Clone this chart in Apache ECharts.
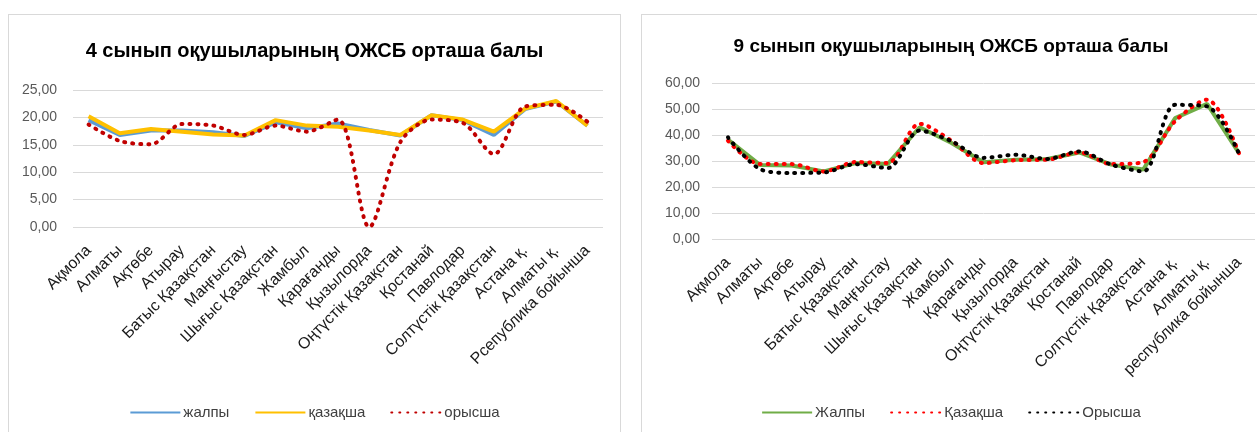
<!DOCTYPE html>
<html>
<head>
<meta charset="utf-8">
<script src="https://cdn.jsdelivr.net/npm/echarts@6/dist/echarts.min.js"></script>
<style>
  body { margin: 0; background: #fff; width: 1257px; height: 432px; overflow: hidden; position: relative; }
  .box { position: absolute; top: 14px; height: 430px; border: 1px solid #d9d9d9; box-sizing: border-box; background: #fff; }
  #chart4 { left: 8px; width: 613px; }
  #chart9 { left: 641px; width: 620px; }
</style>
</head>
<body>
<div id="chart4" class="box"></div>
<div id="chart9" class="box"></div>
<script>
// 4 сынып
var regions4 = ['Ақмола', 'Алматы', 'Ақтөбе', 'Атырау', 'Батыс Қазақстан', 'Маңғыстау', 'Шығыс Қазақстан', 'Жамбыл', 'Қарағанды', 'Қызылорда', 'Оңтүстік Қазақстан', 'Қостанай', 'Павлодар', 'Солтүстік Қазақстан', 'Астана қ.', 'Алматы қ.', 'Рсепублика бойынша'];
var total4   = [19.5, 16.8, 17.6, 17.6, 17.3, 16.6, 19.1, 18.0, 18.9, 17.7, 16.7, 20.4, 19.5, 16.8, 21.5, 22.9, 18.5];
var kazakh4  = [20.2, 17.1, 17.9, 17.4, 16.9, 16.7, 19.5, 18.5, 18.3, 17.6, 16.8, 20.4, 19.6, 17.4, 21.6, 23.0, 18.5];
var russian4 = [18.7, 15.7, 15.1, 18.8, 18.5, 16.8, 18.5, 17.4, 19.6, 0.0, 15.5, 19.6, 19.0, 13.3, 22.0, 22.3, 19.2];

// 9 сынып
var regions9 = ['Ақмола', 'Алматы', 'Ақтөбе', 'Атырау', 'Батыс Қазақстан', 'Маңғыстау', 'Шығыс Қазақстан', 'Жамбыл', 'Қарағанды', 'Қызылорда', 'Оңтүстік Қазақстан', 'Қостанай', 'Павлодар', 'Солтүстік Қазақстан', 'Астана қ.', 'Алматы қ.', 'республика бойынша'];
var total9   = [38.2, 28.5, 28.3, 26.0, 29.2, 28.8, 43.0, 36.9, 29.5, 30.5, 30.8, 33.3, 28.6, 26.7, 46.5, 52.0, 33.0];
var kazakh9  = [37.8, 28.8, 28.8, 26.0, 29.6, 29.2, 44.3, 37.8, 29.2, 30.3, 30.5, 33.3, 28.8, 29.6, 45.3, 53.6, 33.0];
var russian9 = [39.1, 26.9, 25.4, 25.6, 28.8, 27.3, 41.7, 37.6, 31.2, 32.4, 30.8, 33.7, 28.6, 26.0, 51.6, 51.0, 32.8];

var FONT = "'Liberation Sans', sans-serif";

function fmt(v){
  return v.toFixed(2).replace('.', ',')
}

function solid(name, data, color, width){
  return {
    name: name, type: 'line', data: data, symbol: 'none',
    lineStyle: { color: color, width: width },
    itemStyle: { color: color }
  }
}

function dotted(name, data, color){
  return {
    name: name, type: 'line', data: data, symbol: 'none', smooth: 0.3,
    lineStyle: { color: color, width: 4, type: [1, 7], cap: 'round' },
    itemStyle: { color: color }
  }
}

function get_option(title, titleSize, titleTop, cats, max, interval, grid, ymargin, series){
  return {
    animation: false,
    title: {
      text: title, left: 'center', top: titleTop,
      textStyle: { fontFamily: FONT, fontSize: titleSize, fontWeight: 'bold', color: '#000' }
    },
    legend: {
      bottom: 18, left: 'center', itemWidth: 50, itemHeight: 10, itemGap: 25,
      itemStyle: { opacity: 0 },
      textStyle: { fontFamily: FONT, fontSize: 15, color: '#404040', padding: [0, 0, 0, -2] }
    },
    grid: grid,
    xAxis: {
      type: 'category', data: cats, boundaryGap: true,
      axisLine: { show: false }, axisTick: { show: false },
      axisLabel: { interval: 0, rotate: 45, margin: 21, fontFamily: FONT, fontSize: 16, color: '#1a1a1a' }
    },
    yAxis: {
      type: 'value', min: 0, max: max, interval: interval,
      axisLine: { show: false }, axisTick: { show: false },
      splitLine: { lineStyle: { color: '#d9d9d9', width: 1 } },
      axisLabel: { formatter: fmt, margin: ymargin, fontFamily: FONT, fontSize: 14, color: '#595959' }
    },
    series: series
  }
}

var chart4 = echarts.init(document.getElementById('chart4'));
chart4.setOption(get_option('4 сынып оқушыларының ОЖСБ орташа балы', 20, 21, regions4, 25, 5,
  { left: 64, top: 75, width: 530, height: 137 }, 16,
  [
    solid('жалпы', total4, '#5b9bd5', 4),
    solid('қазақша', kazakh4, '#ffc000', 4),
    dotted('орысша', russian4, '#c00000')
  ]));

var chart9 = echarts.init(document.getElementById('chart9'));
chart9.setOption(get_option('9 сынып оқушыларының ОЖСБ орташа балы', 19, 17, regions9, 60, 10,
  { left: 70, top: 68, width: 543, height: 156 }, 12,
  [
    solid('Жалпы', total9, '#70ad47', 4),
    dotted('Қазақша', kazakh9, '#ff0000'),
    dotted('Орысша', russian9, '#000000')
  ]));
</script>
</body>
</html>
